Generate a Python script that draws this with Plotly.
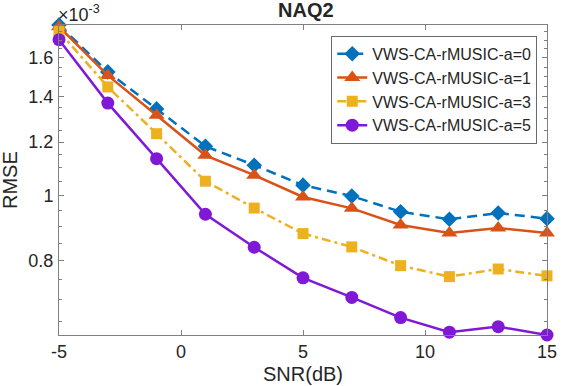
import math
import plotly.graph_objects as go

# ---- data (RMSE in units of 1e-3) ----
snr_db = [-5, -3, -1, 1, 3, 5, 7, 9, 11, 13, 15]
rmse_a0 = [1.790, 1.525, 1.344, 1.183, 1.109, 1.036, 0.998, 0.946, 0.922, 0.942, 0.924]
rmse_a1 = [1.780, 1.507, 1.315, 1.147, 1.072, 0.995, 0.957, 0.904, 0.880, 0.895, 0.880]
rmse_a3 = [1.752, 1.449, 1.235, 1.050, 0.958, 0.878, 0.839, 0.787, 0.758, 0.778, 0.760]
rmse_a5 = [1.702, 1.371, 1.134, 0.938, 0.838, 0.755, 0.706, 0.659, 0.627, 0.639, 0.621]
series_names = ["VWS-CA-rMUSIC-a=0", "VWS-CA-rMUSIC-a=1",
                "VWS-CA-rMUSIC-a=3", "VWS-CA-rMUSIC-a=5"]
x_ticks = [-5, 0, 5, 10, 15]
x_ticklabels = ["-5", "0", "5", "10", "15"]
y_ticks = [0.8, 1.0, 1.2, 1.4, 1.6]
y_ticklabels = ["0.8", "1", "1.2", "1.4", "1.6"]
y_minor = [0.65, 0.70, 0.75, 0.85, 0.90, 0.95, 1.05, 1.10, 1.15, 1.25, 1.30,
           1.35, 1.45, 1.50, 1.55, 1.65, 1.70, 1.75]

FONT = "Liberation Sans, Arial, Helvetica, sans-serif"
TXT = "#262626"
AX = "#808080"

styles = [
    dict(color="#0072BD", dash="10px,6px", symbol="diamond", size=12),
    dict(color="#D95319", dash="solid", symbol="triangle-up", size=14),
    dict(color="#EDB120", dash="9px,4px,3px,4px", symbol="square", size=11),
    dict(color="#8019D6", dash="solid", symbol="circle", size=13),
]
all_series = [rmse_a0, rmse_a1, rmse_a3, rmse_a5]

fig = go.Figure()
for name, ys, st in zip(series_names, all_series, styles):
    fig.add_trace(go.Scatter(
        x=snr_db, y=ys, name=name, mode="lines+markers",
        line=dict(color=st["color"], width=2.5, dash=st["dash"]),
        marker=dict(symbol=st["symbol"], size=st["size"], color=st["color"],
                    line=dict(width=0)),
        cliponaxis=False,
    ))

ymin = min(min(s) for s in all_series)
ymax = max(max(s) for s in all_series)

fig.update_layout(
    width=568, height=386,
    margin=dict(l=59, r=11, t=25, b=51),
    paper_bgcolor="white", plot_bgcolor="white",
    font=dict(family=FONT, size=18, color=TXT),
    showlegend=True,
    legend=dict(
        x=0.98, y=0.965, xanchor="right", yanchor="top",
        bgcolor="white", bordercolor="#6a6a6a", borderwidth=1,
        font=dict(family=FONT, size=16, color=TXT),
        itemwidth=30, tracegroupgap=0,
    ),
    xaxis=dict(
        range=[-5, 15], tickvals=x_ticks, ticktext=x_ticklabels,
        ticks="inside", ticklen=5,
        tickcolor=AX, showline=True, linecolor=AX, linewidth=1,
        mirror="allticks", showgrid=False, zeroline=False,
        ticklabelstandoff=0,
        tickfont=dict(family=FONT, size=18, color=TXT),
    ),
    yaxis=dict(
        type="log", range=[math.log10(ymin), math.log10(ymax)],
        tickvals=y_ticks, ticktext=y_ticklabels, ticks="inside", ticklen=5,
        tickcolor=AX, showline=True, linecolor=AX, linewidth=1,
        mirror="allticks", showgrid=False, zeroline=False,
        ticklabelstandoff=1,
        tickfont=dict(family=FONT, size=18, color=TXT),
        minor=dict(tickmode="array", tickvals=y_minor, ticks="inside",
                   ticklen=3, tickcolor=AX, showgrid=False),
    ),
    annotations=[
        dict(text="<b>NAQ2</b>", xref="paper", yref="paper", x=0.5, y=1,
             xshift=3, yshift=15, xanchor="center", yanchor="middle",
             showarrow=False, font=dict(family=FONT, size=20, color=TXT)),
        dict(text="×10<sup>-3</sup>", xref="paper", yref="paper", x=0, y=1,
             xshift=-3, yshift=-2, xanchor="left", yanchor="bottom",
             showarrow=False, font=dict(family=FONT, size=18, color=TXT)),
        dict(text="SNR(dB)", xref="paper", yref="paper", x=0.5, y=0,
             yshift=-39, xanchor="center", yanchor="middle",
             showarrow=False, font=dict(family=FONT, size=20, color=TXT)),
        dict(text="RMSE", xref="paper", yref="paper", x=0, y=0.5,
             xshift=-49, xanchor="center", yanchor="middle", textangle=-90,
             showarrow=False, font=dict(family=FONT, size=20, color=TXT)),
    ],
)

fig.write_html("out.html", config={"displayModeBar": False},
               post_script="document.body.style.margin='0';"
                           "document.body.style.overflow='hidden';")
